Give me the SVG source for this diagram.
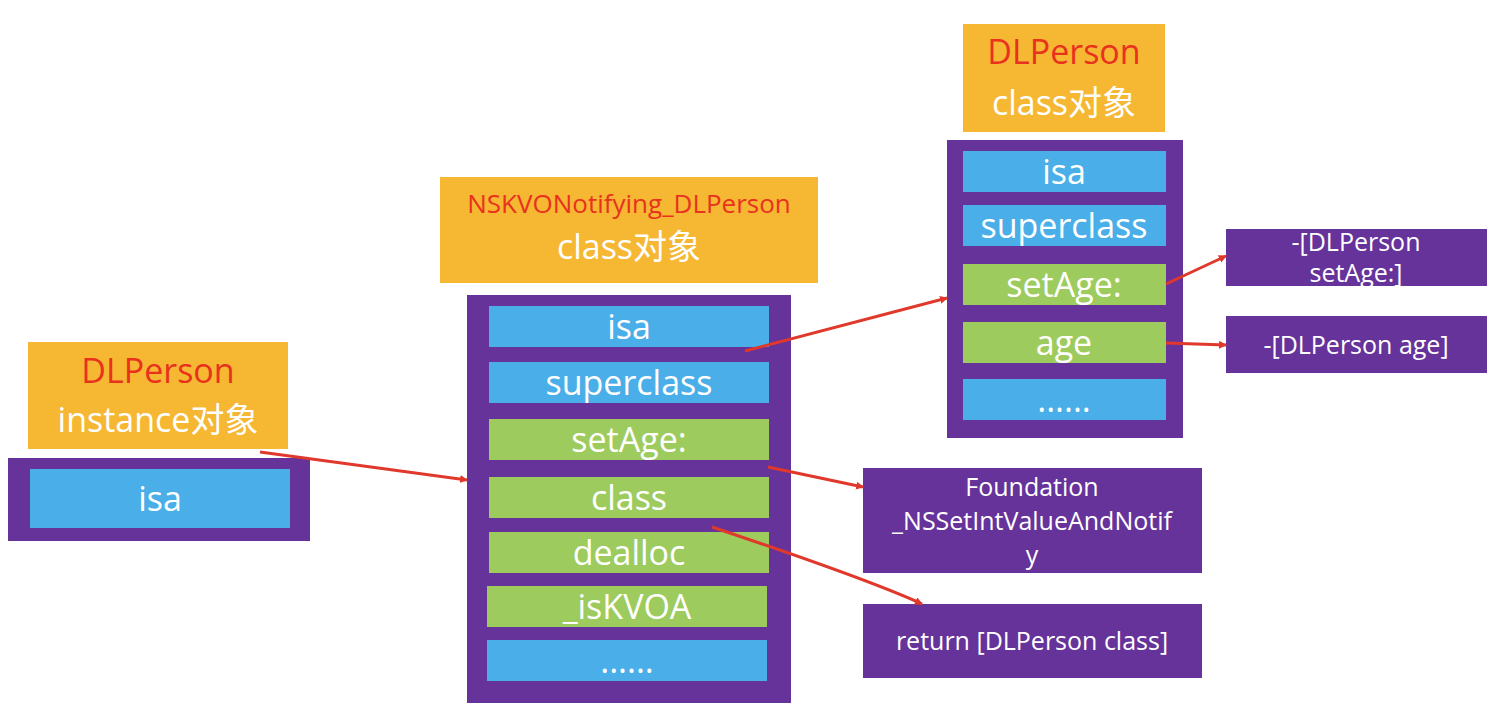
<svg xmlns="http://www.w3.org/2000/svg" width="1500" height="719" viewBox="0 0 1500 719">
<style>
.y{fill:#f6b732}.p{fill:#65339a}.b{fill:#4aaee8}.g{fill:#9dcb5e}
text{font-family:"Open Sans","Noto Sans","Noto Sans CJK SC",sans-serif;text-anchor:middle;fill:#fff}
.r{fill:#e8321e}.t{font-size:34px}.s{font-size:25px}
.c{stroke:#e0392b;stroke-width:3;fill:none;marker-end:url(#a)}
</style>
<defs><marker id="a" markerWidth="8" markerHeight="8" refX="7" refY="4" orient="auto" markerUnits="userSpaceOnUse" viewBox="0 0 8 8"><path d="M0,0L8,4L0,8z" fill="#e0392b"/></marker></defs>
<rect width="1500" height="719" fill="#fff"/>
<g id="inst">
<rect class="y" x="28" y="342" width="260" height="107"/>
<text class="t r" x="158" y="383">DLPerson</text>
<text class="t" x="158" y="432">instance对象</text>
<rect class="p" x="8" y="458" width="302" height="83"/>
<rect class="b" x="30" y="469" width="260" height="59"/>
<text class="t" x="160" y="511">isa</text>
</g>
<g id="kvo">
<rect class="y" x="440" y="177" width="378" height="106"/>
<text class="r" x="629" y="213" font-size="26">NSKVONotifying_DLPerson</text>
<text class="t" x="629" y="259">class对象</text>
<rect class="p" x="467" y="295" width="324" height="408"/>
<rect class="b" x="489" y="306" width="280" height="41"/><text class="t" x="629" y="339">isa</text>
<rect class="b" x="489" y="362" width="280" height="41"/><text class="t" x="629" y="395">superclass</text>
<rect class="g" x="489" y="419" width="280" height="41"/><text class="t" x="629" y="452">setAge:</text>
<rect class="g" x="489" y="477" width="280" height="41"/><text class="t" x="629" y="510">class</text>
<rect class="g" x="489" y="532" width="280" height="41"/><text class="t" x="629" y="565">dealloc</text>
<rect class="g" x="487" y="586" width="280" height="41"/><text class="t" x="627" y="619">_isKVOA</text>
<rect class="b" x="487" y="640" width="280" height="41"/><text class="t" x="627" y="673">......</text>
</g>
<g id="cls">
<rect class="y" x="963" y="24" width="202" height="108"/>
<text class="t r" x="1064" y="64">DLPerson</text>
<text class="t" x="1064" y="115">class对象</text>
<rect class="p" x="947" y="140" width="236" height="298"/>
<rect class="b" x="963" y="151" width="203" height="41"/><text class="t" x="1064" y="184">isa</text>
<rect class="b" x="963" y="205" width="203" height="41"/><text class="t" x="1064" y="238">superclass</text>
<rect class="g" x="963" y="264" width="203" height="41"/><text class="t" x="1064" y="297">setAge:</text>
<rect class="g" x="963" y="322" width="203" height="41"/><text class="t" x="1064" y="355">age</text>
<rect class="b" x="963" y="379" width="203" height="41"/><text class="t" x="1064" y="412">......</text>
</g>
<g id="m1"><rect class="p" x="1226" y="229" width="261" height="57"/><text class="s" x="1356" y="251">-[DLPerson</text><text class="s" x="1356" y="282">setAge:]</text></g>
<g id="m2"><rect class="p" x="1226" y="316" width="261" height="57"/><text class="s" x="1356" y="354">-[DLPerson age]</text></g>
<g id="m3"><rect class="p" x="863" y="468" width="339" height="105"/><text class="s" x="1032" y="496">Foundation</text><text class="s" x="1032" y="530">_NSSetIntValueAndNotif</text><text class="s" x="1032" y="564">y</text></g>
<g id="m4"><rect class="p" x="863" y="604" width="339" height="74"/><text class="s" x="1032" y="650">return [DLPerson class]</text></g>
<g id="connectors">
<path class="c" d="M260,452L467,480"/>
<path class="c" d="M745,351L947,298"/>
<path class="c" d="M1166,284L1226,256"/>
<path class="c" d="M1166,343L1226,345"/>
<path class="c" d="M768,467L863,487"/>
<path class="c" d="M712,527Q870,580 922,604"/>
</g>
</svg>
